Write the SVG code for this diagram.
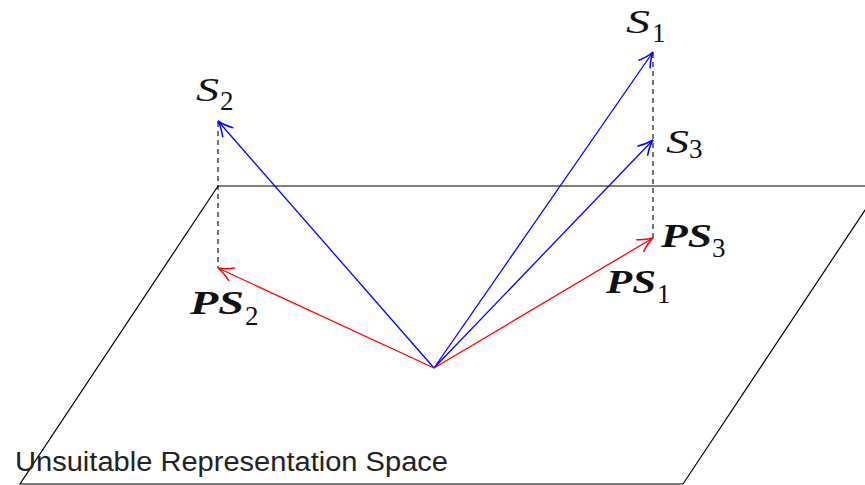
<svg xmlns="http://www.w3.org/2000/svg" width="865" height="485" viewBox="0 0 865 485">
<style>
.plane{fill:none;stroke:#000;stroke-width:1.2}
.dash{fill:none;stroke:#000;stroke-width:1.1;stroke-dasharray:5,4}
.blue{stroke:#0000ff;stroke-width:1.3;fill:none}
.red{stroke:#ff0000;stroke-width:1.3;fill:none}
.m{font-family:"Liberation Serif",serif;font-style:italic;font-size:34px;fill:#111}
.mb{font-family:"Liberation Serif",serif;font-style:italic;font-weight:bold;font-size:33px;fill:#111}
.sub{font-family:"Liberation Serif",serif;font-size:27px;fill:#111}
.lab{font-family:"Liberation Sans",sans-serif;font-size:27px;fill:#222}
</style>
<defs>
<marker id="ab" markerUnits="userSpaceOnUse" markerWidth="20" markerHeight="20" refX="0" refY="0" viewBox="-15 -8 17 16" orient="auto">
<path d="M-13,-6 Q-6,-1.5 0,0 Q-6,1.5 -13,6" fill="none" stroke="#0000ff" stroke-width="1.3"/>
</marker>
<marker id="ar" markerUnits="userSpaceOnUse" markerWidth="20" markerHeight="20" refX="0" refY="0" viewBox="-15 -8 17 16" orient="auto">
<path d="M-13,-6 Q-6,-1.5 0,0 Q-6,1.5 -13,6" fill="none" stroke="#ff0000" stroke-width="1.3"/>
</marker>
</defs>
<g id="plane">
<path class="plane" d="M218,186 L880,186 M218,186 L20,484 L683,484 L881,186"/>
<text class="lab" x="15" y="471" textLength="433" lengthAdjust="spacingAndGlyphs">Unsuitable Representation Space</text>
</g>
<g id="connectors">
<line class="dash" x1="218" y1="122" x2="218" y2="268"/>
<line class="dash" x1="653" y1="53" x2="653" y2="238"/>
<line class="blue" x1="434" y1="368" x2="218" y2="121" marker-end="url(#ab)"/>
<line class="blue" x1="434" y1="368" x2="653" y2="52" marker-end="url(#ab)"/>
<line class="blue" x1="434" y1="368" x2="653" y2="140" marker-end="url(#ab)"/>
<line class="red" x1="434" y1="368" x2="218" y2="268" marker-end="url(#ar)"/>
<line class="red" x1="434" y1="368" x2="653" y2="238" marker-end="url(#ar)"/>
</g>
<g id="S2"><text class="m" x="196" y="101" textLength="23" lengthAdjust="spacingAndGlyphs">S</text><text class="sub" x="220" y="110">2</text></g>
<g id="S1"><text class="m" x="626" y="33" textLength="24" lengthAdjust="spacingAndGlyphs">S</text><text class="sub" x="652" y="42">1</text></g>
<g id="S3"><text class="m" x="666" y="153" textLength="23" lengthAdjust="spacingAndGlyphs">S</text><text class="sub" x="689" y="158">3</text></g>
<g id="PS2"><text class="mb" x="190" y="314" textLength="54" lengthAdjust="spacingAndGlyphs">PS</text><text class="sub" x="245" y="325">2</text></g>
<g id="PS3"><text class="mb" x="661" y="247" textLength="51" lengthAdjust="spacingAndGlyphs">PS</text><text class="sub" x="712" y="257">3</text></g>
<g id="PS1"><text class="mb" x="606" y="293" textLength="50" lengthAdjust="spacingAndGlyphs">PS</text><text class="sub" x="657" y="303">1</text></g>
</svg>
